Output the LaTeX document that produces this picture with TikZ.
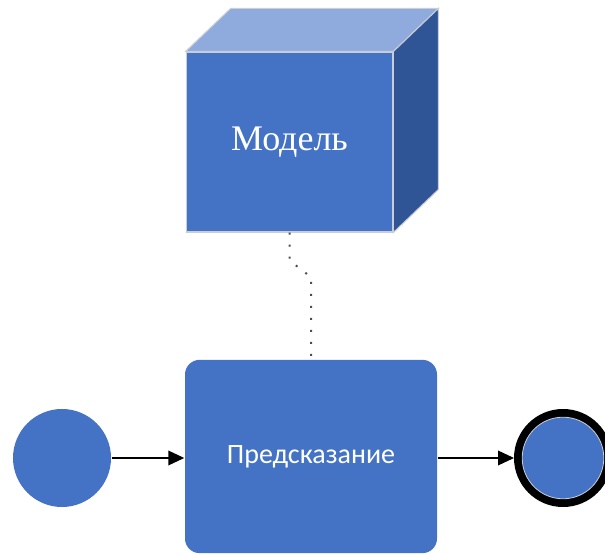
\documentclass[tikz,border=0pt]{standalone}
\usepackage{fontspec}
\setmainfont{Liberation Serif}
\newfontfamily\calibri{Carlito}
\usepackage{tikz}
\definecolor{OfficeBlue}{HTML}{4472C4}
\definecolor{OfficeBlueLight}{HTML}{8FAADC}
\definecolor{OfficeBlueDark}{HTML}{2F5597}
\definecolor{EdgeGray}{HTML}{C9CDD6}
\usetikzlibrary{calc}
\usetikzlibrary{arrows.meta}
\usetikzlibrary{positioning}

\begin{document}
\begin{tikzpicture}[x=0.75pt, y=0.75pt,
    >={Triangle[length=12pt,width=11pt]},
    line width=1.1pt]
    \path [use as bounding box] (0,0) rectangle (605,555);

    \node[name=model,
      shape=rectangle,
      fill=OfficeBlue,
      draw=EdgeGray,
      line width=0.8pt,
      minimum width=155pt,
      minimum height=135pt,
      text=white,
      font=\fontsize{27}{31}\selectfont] at (289.5,413) {Модель};

    \filldraw[fill=OfficeBlueLight, draw=EdgeGray, line width=0.8pt]
      (model.north west) -- ++(45,43) -- ($(model.north east)+(45,43)$)
      -- (model.north east) -- cycle;
    \filldraw[fill=OfficeBlueDark, draw=EdgeGray, line width=0.8pt]
      (model.north east) -- ++(45,43) -- ($(model.south east)+(45,43)$)
      -- (model.south east) -- cycle;

    \node[name=predict,
      shape=rectangle,
      rounded corners=11pt,
      fill=OfficeBlue,
      minimum width=189pt,
      minimum height=145pt,
      text=white,
      font=\calibri\fontsize{21}{25}\selectfont] at (311,98.5) {Предсказание};

    \node[name=start,
      shape=circle,
      fill=OfficeBlue,
      minimum size=73.5pt] at (62,97) {};

    \node[name=end,
      shape=circle,
      fill=OfficeBlue,
      draw=black,
      line width=6pt,
      minimum size=67.5pt] at (563,97) {};
    \draw[EdgeGray, line width=0.6pt] (end.center) circle (30.6pt);

    \draw[->] (start.east) -- (start.east -| predict.west);
    \draw[->] (end.west -| predict.east) -- (end.west);

    \draw[line width=1.5pt, draw=black!70, dash pattern=on 1.5pt off 7.5pt]
      (model.south) -- ++(0,-28) -- ($(predict.north)+(0,82)$) -- (predict.north);
\end{tikzpicture}
\end{document}
